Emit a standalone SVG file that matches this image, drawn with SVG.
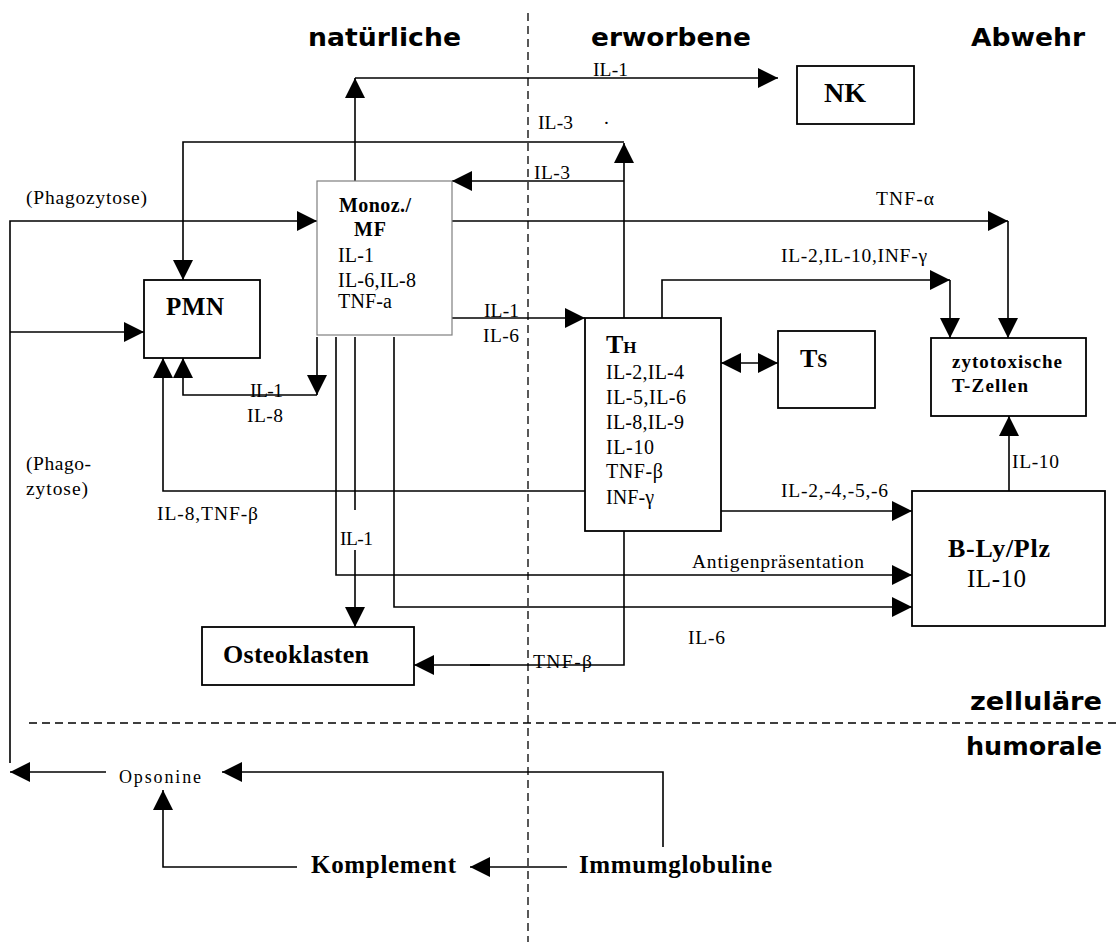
<svg xmlns="http://www.w3.org/2000/svg" width="1118" height="944" viewBox="0 0 1118 944">
<style>
.bg{fill:#fff}
.box{fill:#fff;stroke:#000;stroke-width:1.8}
.boxg{fill:#fff;stroke:#7f7f7f;stroke-width:1.2}
.ln{fill:none;stroke:#000;stroke-width:1.6}
.dash{fill:none;stroke:#000;stroke-width:1.3;stroke-dasharray:8 5}
.t{font-family:"Liberation Serif","Times New Roman",serif;font-size:19.5px;fill:#000}
.tb{font-family:"Liberation Serif","Times New Roman",serif;font-weight:bold;fill:#000}
.tn{font-family:"Liberation Serif","Times New Roman",serif;font-size:20px;fill:#000}
.h{font-family:"DejaVu Sans","Noto Sans",sans-serif;font-weight:bold;font-size:25px;fill:#000}
</style>
<defs>
<marker id="ah" viewBox="0 0 20 20" refX="20" refY="10" markerWidth="20" markerHeight="20" markerUnits="userSpaceOnUse" orient="auto-start-reverse">
<path d="M0,0 L20,10 L0,20 Z" fill="#000"/>
</marker>
</defs>
<rect class="bg" x="0" y="0" width="1118" height="944"/>

<g id="sections">
<line class="dash" x1="528" y1="13" x2="528" y2="942"/>
<line class="dash" x1="29" y1="723" x2="1118" y2="723"/>
<text class="h" x="308" y="46" textLength="153" lengthAdjust="spacingAndGlyphs">natürliche</text>
<text class="h" x="591" y="46" textLength="160" lengthAdjust="spacingAndGlyphs">erworbene</text>
<text class="h" x="971" y="46" textLength="114" lengthAdjust="spacingAndGlyphs">Abwehr</text>
<text class="h" x="970" y="710" textLength="132" lengthAdjust="spacingAndGlyphs">zelluläre</text>
<text class="h" x="966" y="755" textLength="136" lengthAdjust="spacingAndGlyphs">humorale</text>
</g>

<g id="connectors">
<path class="ln" d="M355,181 V78" marker-end="url(#ah)"/>
<path class="ln" d="M355,78 H778" marker-end="url(#ah)"/>
<path class="ln" d="M624,318 V143" marker-end="url(#ah)"/>
<path class="ln" d="M624,142 H183 V280" marker-end="url(#ah)"/>
<path class="ln" d="M624,181 H452" stroke-width="2" marker-end="url(#ah)"/>
<path class="ln" d="M10,763 V221 H317" marker-end="url(#ah)"/>
<path class="ln" d="M10,332 H144" marker-end="url(#ah)"/>
<path class="ln" d="M452,221 H1008" marker-end="url(#ah)"/>
<path class="ln" d="M1008,221 V338" marker-end="url(#ah)"/>
<path class="ln" d="M662,318 V280 H950" marker-end="url(#ah)"/>
<path class="ln" d="M950,280 V338" marker-end="url(#ah)"/>
<path class="ln" d="M452,318 H585" marker-end="url(#ah)"/>
<path class="ln" d="M721,363 H778" marker-start="url(#ah)" marker-end="url(#ah)"/>
<path class="ln" d="M317,337 V395" marker-end="url(#ah)"/>
<path class="ln" d="M317,395 H183 V358" marker-end="url(#ah)"/>
<path class="ln" d="M585,491 H163 V358" marker-end="url(#ah)"/>
<path class="ln" d="M336,337 V575 H912" marker-end="url(#ah)"/>
<path class="ln" d="M355,337 V510"/>
<path class="ln" d="M355,550 V627" marker-end="url(#ah)"/>
<path class="ln" d="M394,337 V607 H912" marker-end="url(#ah)"/>
<path class="ln" d="M721,511 H912" marker-end="url(#ah)"/>
<path class="ln" d="M624,531 V665 H414" marker-end="url(#ah)"/>
<path class="ln" d="M470,665 H490" stroke-width="2.6"/>
<path class="ln" d="M1009,491 V416" marker-end="url(#ah)"/>
<path class="ln" d="M663,847 V772 H222" marker-end="url(#ah)"/>
<path class="ln" d="M106,772 H10" marker-end="url(#ah)"/>
<path class="ln" d="M297,867 H163 V790" marker-end="url(#ah)"/>
<path class="ln" d="M567,867 H470" marker-end="url(#ah)"/>

<text class="t" x="593" y="76" textLength="35" lengthAdjust="spacing">IL-1</text>
<text class="t" x="538" y="129" textLength="35" lengthAdjust="spacing">IL-3</text>
<text class="t" x="604" y="124">.</text>
<text class="t" x="534" y="179" textLength="36" lengthAdjust="spacing">IL-3</text>
<text class="t" x="26" y="204" textLength="121" lengthAdjust="spacing">(Phagozytose)</text>
<text class="t" x="876" y="205" textLength="58" lengthAdjust="spacing">TNF-α</text>
<text class="t" x="781" y="262" textLength="146" lengthAdjust="spacing">IL-2,IL-10,INF-γ</text>
<text class="t" x="484" y="317" textLength="35" lengthAdjust="spacing">IL-1</text>
<text class="t" x="483" y="342" textLength="36" lengthAdjust="spacing">IL-6</text>
<text class="t" x="250" y="397" textLength="33" lengthAdjust="spacing">IL-1</text>
<text class="t" x="247" y="422" textLength="36" lengthAdjust="spacing">IL-8</text>
<text class="t" x="26" y="470" textLength="65" lengthAdjust="spacing">(Phago-</text>
<text class="t" x="26" y="495" textLength="62" lengthAdjust="spacing">zytose)</text>
<text class="t" x="157" y="520" textLength="101" lengthAdjust="spacing">IL-8,TNF-β</text>
<text class="t" x="340" y="545" textLength="33" lengthAdjust="spacing">IL-1</text>
<text class="t" x="1012" y="468" textLength="47" lengthAdjust="spacing">IL-10</text>
<text class="t" x="781" y="497" textLength="107" lengthAdjust="spacing">IL-2,-4,-5,-6</text>
<text class="t" x="692" y="568" textLength="172" lengthAdjust="spacing">Antigenpräsentation</text>
<text class="t" x="688" y="644" textLength="37" lengthAdjust="spacing">IL-6</text>
<text class="t" x="533" y="668" textLength="59" lengthAdjust="spacing">TNF-β</text>
</g>

<g id="node-nk">
<rect class="box" x="797" y="66" width="117" height="58"/>
<text class="tb" x="824" y="102" font-size="28">NK</text>
</g>

<g id="node-monoz">
<rect class="boxg" x="317" y="181" width="135" height="154"/>
<text class="tb" x="339" y="212" font-size="20" textLength="72" lengthAdjust="spacing">Monoz./</text>
<text class="tb" x="354" y="236" font-size="20" textLength="32" lengthAdjust="spacing">MF</text>
<text class="tn" x="338" y="262" textLength="36" lengthAdjust="spacing">IL-1</text>
<text class="tn" x="338" y="287" textLength="78" lengthAdjust="spacing">IL-6,IL-8</text>
<text class="tn" x="338" y="308" textLength="54" lengthAdjust="spacing">TNF-a</text>
</g>

<g id="node-pmn">
<rect class="box" x="144" y="280" width="116" height="78"/>
<text class="tb" x="166" y="315" font-size="25" textLength="58" lengthAdjust="spacing">PMN</text>
</g>

<g id="node-th">
<rect class="box" x="585" y="318" width="136" height="213"/>
<text class="tb" x="606" y="353" font-size="26">T<tspan font-size="17">H</tspan></text>
<text class="tn" x="606" y="379" textLength="78" lengthAdjust="spacing">IL-2,IL-4</text>
<text class="tn" x="606" y="404" textLength="80" lengthAdjust="spacing">IL-5,IL-6</text>
<text class="tn" x="606" y="429" textLength="78" lengthAdjust="spacing">IL-8,IL-9</text>
<text class="tn" x="606" y="454" textLength="48" lengthAdjust="spacing">IL-10</text>
<text class="tn" x="606" y="478" textLength="57" lengthAdjust="spacing">TNF-β</text>
<text class="tn" x="606" y="504" textLength="48" lengthAdjust="spacing">INF-γ</text>
</g>

<g id="node-ts">
<rect class="box" x="778" y="331" width="97" height="77"/>
<text class="tb" x="800" y="367" font-size="26">T<tspan font-size="18">S</tspan></text>
</g>

<g id="node-zytotox">
<rect class="box" x="931" y="338" width="155" height="78"/>
<text class="tb" x="952" y="368" font-size="19" textLength="110" lengthAdjust="spacing">zytotoxische</text>
<text class="tb" x="952" y="392" font-size="19" textLength="76" lengthAdjust="spacing">T-Zellen</text>
</g>

<g id="node-bly">
<rect class="box" x="912" y="491" width="193" height="135"/>
<text class="tb" x="948" y="557" font-size="26" textLength="102" lengthAdjust="spacing">B-Ly/Plz</text>
<text class="tn" x="967" y="587" style="font-size:25px" textLength="59" lengthAdjust="spacing">IL-10</text>
</g>

<g id="node-osteo">
<rect class="box" x="202" y="627" width="212" height="58"/>
<text class="tb" x="223" y="663" font-size="26" textLength="146" lengthAdjust="spacing">Osteoklasten</text>
</g>

<g id="node-opsonine">
<text class="t" x="119" y="783" style="font-size:18px" textLength="82" lengthAdjust="spacing">Opsonine</text>
</g>

<g id="node-komplement">
<text class="tb" x="311" y="873" font-size="25" textLength="145" lengthAdjust="spacing">Komplement</text>
</g>

<g id="node-immun">
<text class="tb" x="579" y="873" font-size="25" textLength="193" lengthAdjust="spacing">Immumglobuline</text>
</g>
</svg>
